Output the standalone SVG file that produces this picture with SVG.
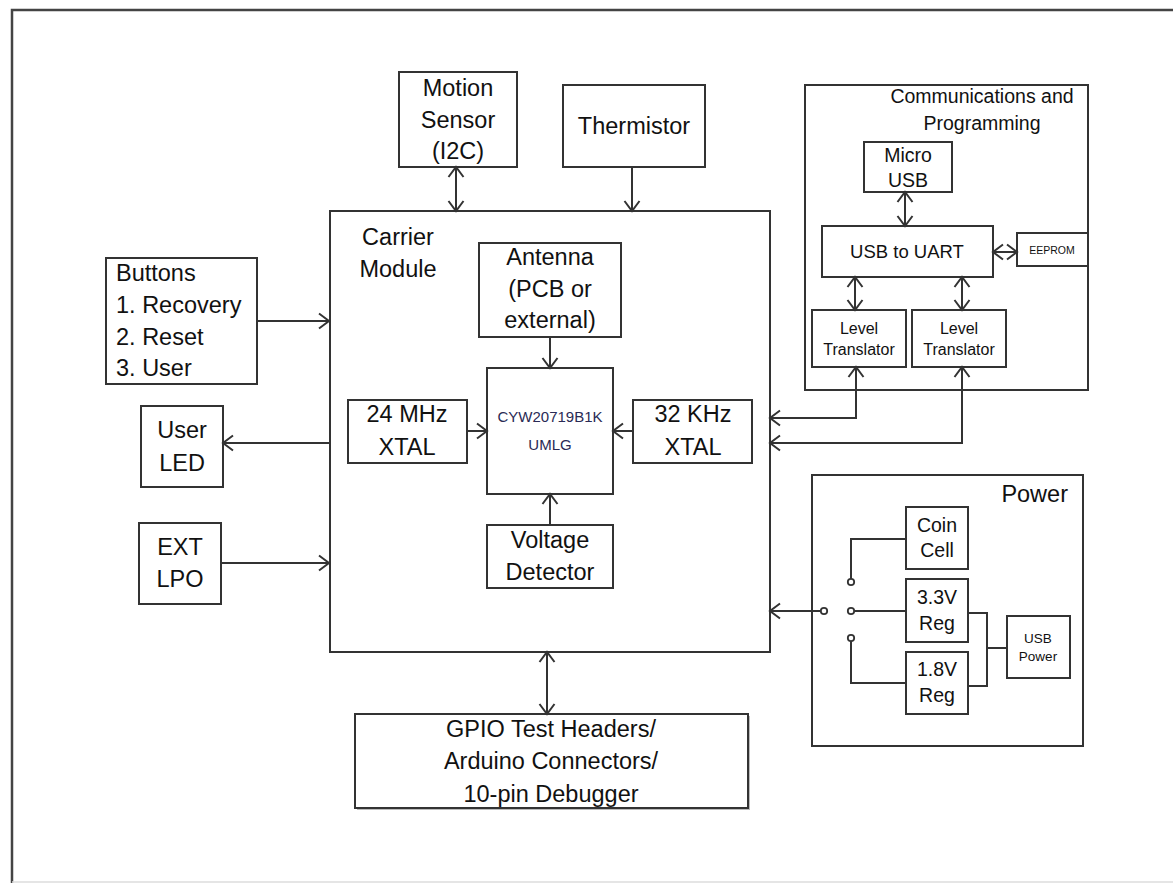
<svg xmlns="http://www.w3.org/2000/svg" width="1173" height="883" viewBox="0 0 1173 883">
<defs>
<style>
.box{fill:#fff;stroke:#333;stroke-width:2}
.grp{fill:none;stroke:#333;stroke-width:2}
.ln{fill:none;stroke:#333;stroke-width:2}
.t{font-family:"Liberation Sans",Arial,sans-serif;fill:#111;text-anchor:middle}
.l{text-anchor:start}
.f23{font-size:23.5px}
.f19{font-size:19.5px}
.f15{font-size:16px}
.chip{fill:#2a2a55;font-size:15px}
</style>
<marker id="ah" viewBox="-12 -9 14 18" refX="0" refY="0" markerWidth="14" markerHeight="18" markerUnits="userSpaceOnUse" orient="auto-start-reverse">
<path d="M-10,-7.5 L0,0 L-10,7.5" fill="none" stroke="#333" stroke-width="2"/>
</marker>
</defs>
<rect width="1173" height="883" fill="#fff"/>
<path d="M1173,10 H12 V883" fill="none" stroke="#444" stroke-width="2.5"/>
<line x1="12" y1="882" x2="1173" y2="882" stroke="#ddd" stroke-width="1.5"/>

<g id="carrier">
<rect class="box" x="330" y="211" width="440" height="441"/>
<text class="t f23" x="398" y="245">Carrier</text>
<text class="t f23" x="398" y="277">Module</text>
</g>
<g id="motion">
<rect class="box" x="399" y="72" width="118" height="95"/>
<text class="t f23" x="458" y="96">Motion</text>
<text class="t f23" x="458" y="128">Sensor</text>
<text class="t f23" x="458" y="159">(I2C)</text>
</g>
<g id="thermistor">
<rect class="box" x="563" y="85" width="142" height="82"/>
<text class="t f23" x="634" y="134">Thermistor</text>
</g>
<g id="antenna">
<rect class="box" x="479" y="243" width="142" height="94"/>
<text class="t f23" x="550" y="265">Antenna</text>
<text class="t f23" x="550" y="297">(PCB or</text>
<text class="t f23" x="550" y="328">external)</text>
</g>
<g id="chip">
<rect class="box" x="487" y="368" width="126" height="126"/>
<text class="t chip" x="550" y="422">CYW20719B1K</text>
<text class="t chip" x="550" y="450">UMLG</text>
</g>
<g id="xtal24">
<rect class="box" x="348" y="400" width="119" height="63"/>
<text class="t f23" x="407" y="422">24 MHz</text>
<text class="t f23" x="407" y="455">XTAL</text>
</g>
<g id="xtal32">
<rect class="box" x="633" y="400" width="119" height="63"/>
<text class="t f23" x="693" y="422">32 KHz</text>
<text class="t f23" x="693" y="455">XTAL</text>
</g>
<g id="voltage">
<rect class="box" x="487" y="525" width="126" height="63"/>
<text class="t f23" x="550" y="548">Voltage</text>
<text class="t f23" x="550" y="580">Detector</text>
</g>
<g id="buttons">
<rect class="box" x="106" y="258" width="151" height="126"/>
<text class="t f23 l" x="116" y="281">Buttons</text>
<text class="t f23 l" x="116" y="313">1. Recovery</text>
<text class="t f23 l" x="116" y="345">2. Reset</text>
<text class="t f23 l" x="116" y="376">3. User</text>
</g>
<g id="userled">
<rect class="box" x="141" y="406" width="82" height="81"/>
<text class="t f23" x="182" y="438">User</text>
<text class="t f23" x="182" y="471">LED</text>
</g>
<g id="extlpo">
<rect class="box" x="139" y="523" width="82" height="81"/>
<text class="t f23" x="180" y="555">EXT</text>
<text class="t f23" x="180" y="587">LPO</text>
</g>
<g id="gpio">
<rect x="357" y="716" width="393" height="94" fill="#bbb"/>
<rect class="box" x="355" y="714" width="393" height="94"/>
<text class="t f23" x="551" y="737">GPIO Test Headers/</text>
<text class="t f23" x="551" y="769">Arduino Connectors/</text>
<text class="t f23" x="551" y="802">10-pin Debugger</text>
</g>

<g id="comms">
<rect class="grp" x="805" y="85" width="283" height="305"/>
<text class="t f19" x="982" y="103">Communications and</text>
<text class="t f19" x="982" y="130">Programming</text>
</g>
<g id="microusb">
<rect class="box" x="864" y="142" width="88" height="50"/>
<text class="t f19" x="908" y="162">Micro</text>
<text class="t f19" x="908" y="187">USB</text>
</g>
<g id="usbuart">
<rect class="box" x="822" y="226" width="171" height="51"/>
<text class="t" style="font-size:18.5px" x="907" y="258">USB to UART</text>
</g>
<g id="eeprom">
<rect class="box" x="1017" y="233" width="71" height="33"/>
<text class="t" style="font-size:10.5px" x="1052" y="254">EEPROM</text>
</g>
<g id="lt1">
<rect class="box" x="812" y="310" width="94" height="57"/>
<text class="t f15" x="859" y="334">Level</text>
<text class="t f15" x="859" y="355">Translator</text>
</g>
<g id="lt2">
<rect class="box" x="912" y="310" width="94" height="57"/>
<text class="t f15" x="959" y="334">Level</text>
<text class="t f15" x="959" y="355">Translator</text>
</g>

<g id="power">
<rect class="grp" x="812" y="475" width="271" height="271"/>
<text class="t f23" style="text-anchor:end" x="1068" y="502">Power</text>
</g>
<g id="coincell">
<rect class="box" x="906" y="507" width="62" height="62"/>
<text class="t f19" x="937" y="532">Coin</text>
<text class="t f19" x="937" y="557">Cell</text>
</g>
<g id="reg33">
<rect class="box" x="906" y="579" width="62" height="63"/>
<text class="t f19" x="937" y="604">3.3V</text>
<text class="t f19" x="937" y="630">Reg</text>
</g>
<g id="reg18">
<rect class="box" x="906" y="652" width="62" height="62"/>
<text class="t f19" x="937" y="676">1.8V</text>
<text class="t f19" x="937" y="702">Reg</text>
</g>
<g id="usbpower">
<rect class="box" x="1007" y="616" width="63" height="62"/>
<text class="t" style="font-size:13.5px" x="1038" y="643">USB</text>
<text class="t" style="font-size:13.5px" x="1038" y="661">Power</text>
</g>

<g id="connectors">
<line class="ln" x1="456" y1="167" x2="456" y2="211" marker-start="url(#ah)" marker-end="url(#ah)"/>
<line class="ln" x1="632" y1="167" x2="632" y2="211" marker-end="url(#ah)"/>
<line class="ln" x1="550" y1="337" x2="550" y2="368" marker-end="url(#ah)"/>
<line class="ln" x1="467" y1="431" x2="487" y2="431" marker-end="url(#ah)"/>
<line class="ln" x1="633" y1="431" x2="613" y2="431" marker-end="url(#ah)"/>
<line class="ln" x1="550" y1="525" x2="550" y2="494" marker-end="url(#ah)"/>
<line class="ln" x1="257" y1="321" x2="329" y2="321" marker-end="url(#ah)"/>
<line class="ln" x1="329" y1="443" x2="223" y2="443" marker-end="url(#ah)"/>
<line class="ln" x1="221" y1="563" x2="329" y2="563" marker-end="url(#ah)"/>
<line class="ln" x1="547" y1="652" x2="547" y2="714" marker-start="url(#ah)" marker-end="url(#ah)"/>
<line class="ln" x1="905" y1="192" x2="905" y2="226" marker-start="url(#ah)" marker-end="url(#ah)"/>
<line class="ln" x1="993" y1="252" x2="1017" y2="252" marker-start="url(#ah)" marker-end="url(#ah)"/>
<line class="ln" x1="855" y1="277" x2="855" y2="310" marker-start="url(#ah)" marker-end="url(#ah)"/>
<line class="ln" x1="962" y1="277" x2="962" y2="310" marker-start="url(#ah)" marker-end="url(#ah)"/>
<path class="ln" d="M770,418 H856 V367" marker-start="url(#ah)" marker-end="url(#ah)"/>
<path class="ln" d="M770,443 H962 V367" marker-start="url(#ah)" marker-end="url(#ah)"/>
<line class="ln" x1="821" y1="611" x2="770" y2="611" marker-end="url(#ah)"/>
<circle cx="824" cy="611" r="3.2" fill="#fff" stroke="#333" stroke-width="1.8"/>
<circle cx="851" cy="582" r="3.2" fill="#fff" stroke="#333" stroke-width="1.8"/>
<circle cx="851" cy="611" r="3.2" fill="#fff" stroke="#333" stroke-width="1.8"/>
<circle cx="851" cy="638" r="3.2" fill="#fff" stroke="#333" stroke-width="1.8"/>
<path class="ln" d="M851,579 V539 H906"/>
<path class="ln" d="M854,611 H906"/>
<path class="ln" d="M851,641 V683 H906"/>
<path class="ln" d="M968,613 H987 V686 H968"/>
<path class="ln" d="M987,648 H1007"/>
</g>
</svg>
